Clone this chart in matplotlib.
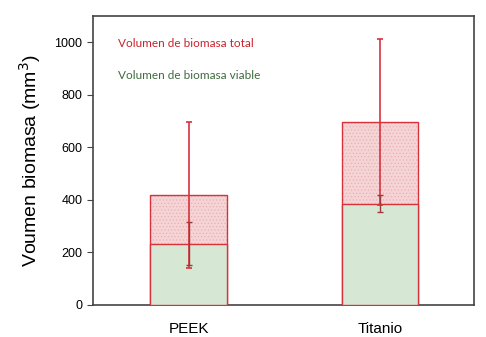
import numpy as np
import matplotlib.pyplot as plt

categories = ['PEEK', 'Titanio']
total = [420, 697]
total_err = [278, 315]
viable = [233, 385]
viable_err = [82, 33]

red = '#d8323c'
plt.rcParams['font.family'] = ['Liberation Sans', 'DejaVu Sans']
plt.rcParams['hatch.color'] = '#f3b8bd'
plt.rcParams['hatch.linewidth'] = 0.5

fig = plt.figure(figsize=(4.86, 3.37), dpi=100)
ax = fig.add_axes([0.191, 0.095, 0.784, 0.858])

x = np.arange(len(categories))
# filled bars, then outlines on top
ax.bar(x, total, width=0.4, color='#f5d4d6', edgecolor='#eab0b5', linewidth=0,
       hatch='.....', zorder=2)
ax.bar(x, total, width=0.4, color='none', edgecolor=red, linewidth=1, zorder=3)
ax.bar(x, viable, width=0.4, color='#d6e8d4', edgecolor=red, linewidth=1, zorder=3)

ax.errorbar(x, total, yerr=total_err, fmt='none', ecolor=red, elinewidth=1.2,
            capsize=2.5, capthick=1.2, zorder=4)
ax.errorbar(x, viable, yerr=viable_err, fmt='none', ecolor='#a03a3a', elinewidth=1,
            capsize=2.5, capthick=1, zorder=5)

ax.set_xlim(-0.5, 1.49)
ax.set_ylim(0, 1100)
ax.set_yticks([0, 200, 400, 600, 800, 1000])
ax.set_xticks(x)
ax.set_xticklabels(categories, fontsize=11)
ax.tick_params(axis='x', length=0, pad=12)
ax.tick_params(axis='y', direction='out', length=4, labelsize=9, color='#444444')
for s in ax.spines.values():
    s.set_color('#444444')
    s.set_linewidth(1.2)

ax.set_ylabel('Voumen biomasa (mm$^3$)', fontsize=14, labelpad=8)

ax.text(0.065, 0.905, 'Volumen de biomasa total', transform=ax.transAxes,
        color='#c8232c', fontsize=8.5, family=['Lato', 'DejaVu Sans'], va='center')
ax.text(0.065, 0.795, 'Volumen de biomasa viable', transform=ax.transAxes,
        color='#3f6a3f', fontsize=8.5, family=['Lato', 'DejaVu Sans'], va='center')

fig.savefig('out.png', dpi=100)
